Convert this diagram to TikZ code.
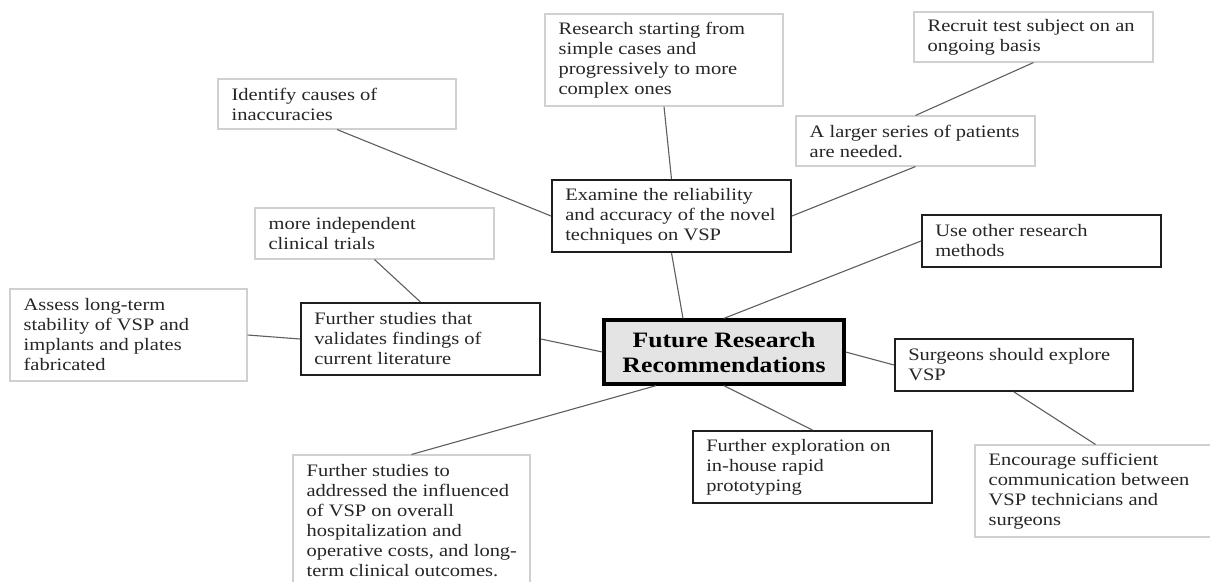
\documentclass[tikz,border=0pt]{standalone}
\usepackage{fontspec}
\setmainfont[FakeStretch=1.17]{Liberation Serif}
\definecolor{lightedge}{HTML}{D0D0D0}
\definecolor{darkedge}{HTML}{1E1E1E}
\definecolor{conn}{HTML}{5E5E5E}
\definecolor{txt}{HTML}{262626}
\definecolor{centerfill}{HTML}{E4E4E4}
% box node (empty) + left-aligned text node
\newcommand\mybox[7]{%
  \pgfmathsetmacro\bw{#5-#3}\pgfmathsetmacro\bh{#6-#4}%
  \node[#2, minimum width=\bw pt, minimum height=\bh pt] (#1) at ({(#3+#5)/2},{(#4+#6)/2}) {};
  \node[boxtext, anchor=west] (#1-t) at ([xshift=14pt]#1.west) {#7};}
\tikzset{
  basebox/.style={rectangle, inner sep=0pt},
  lightbox/.style={basebox, draw=lightedge, line width=1.1pt, fill=white},
  darkbox/.style={basebox, draw=darkedge, line width=1.9pt, fill=white},
  centerbox/.style={basebox, draw=black, line width=3.3pt, fill=centerfill},
  boxtext/.style={inner sep=0pt, align=left, text=txt, font=\fontsize{17.5}{20}\selectfont},
  centertext/.style={inner sep=0pt, align=center, text=black, font=\fontsize{22}{25}\selectfont\bfseries},
  link/.style={draw=conn, line width=1.1pt}
}
\begin{document}
\begin{tikzpicture}[x=1pt,y=-1pt]
\useasboundingbox (0,0) rectangle (1210,581);
\clip (0,0) rectangle (1210,581);
% boxes
\mybox{identify}{lightbox}{218}{79}{456}{129}{Identify causes of\\inaccuracies}
\mybox{research}{lightbox}{545}{14}{783}{106}{Research starting from\\simple cases and\\progressively to more\\complex ones}
\mybox{recruit}{lightbox}{914}{12}{1153}{62}{Recruit test subject on an\\ongoing basis}
\mybox{larger}{lightbox}{796}{116}{1035}{166}{A larger series of patients\\are needed.}
\mybox{examine}{darkbox}{552}{180}{791}{252}{Examine the reliability\\and accuracy of the novel\\techniques on VSP}
\mybox{moreindep}{lightbox}{255}{208}{494}{259}{more independent\\clinical trials}
\mybox{useother}{darkbox}{922}{215}{1161}{267}{Use other research\\methods}
\mybox{assess}{lightbox}{10}{289}{247}{381}{Assess long-term\\stability of VSP and\\implants and plates\\fabricated}
\mybox{validates}{darkbox}{301}{303}{540}{375}{Further studies that\\validates findings of\\current literature}
\mybox{addressed}{lightbox}{293}{455}{530}{587}{Further studies to\\addressed the influenced\\of VSP on overall\\hospitalization and\\operative costs, and long-\\term clinical outcomes.}
\node[centerbox, minimum width=240pt, minimum height=64pt] (center) at (724,352) {};
\node[centertext] (center-t) at (center) {Future Research\\Recommendations};
\mybox{surgeons}{darkbox}{895}{339}{1133}{391}{Surgeons should explore\\VSP}
\mybox{exploration}{darkbox}{693}{431}{932}{503}{Further exploration on\\in-house rapid\\prototyping}
\mybox{encourage}{lightbox}{975}{445}{1216}{537}{Encourage sufficient\\communication between\\VSP technicians and\\surgeons}
% connectors
\draw[link] (identify.south) -- (examine.west);
\draw[link] (research.south) -- (examine.north);
\draw[link] (recruit.south) -- (larger.north);
\draw[link] (larger.south) -- (examine.east);
\draw[link] (examine.south) -- ([xshift=-41pt]center.north);
\draw[link] (useother.west) -- (center.north);
\draw[link] (moreindep.south) -- (validates.north);
\draw[link] (assess.east) -- (validates.west);
\draw[link] (validates.east) -- (center.west);
\draw[link] ([xshift=-68pt]center.south) -- (addressed.north);
\draw[link] (center.south) -- (exploration.north);
\draw[link] (center.east) -- (surgeons.west);
\draw[link] (surgeons.south) -- (encourage.north);
\end{tikzpicture}
\end{document}
